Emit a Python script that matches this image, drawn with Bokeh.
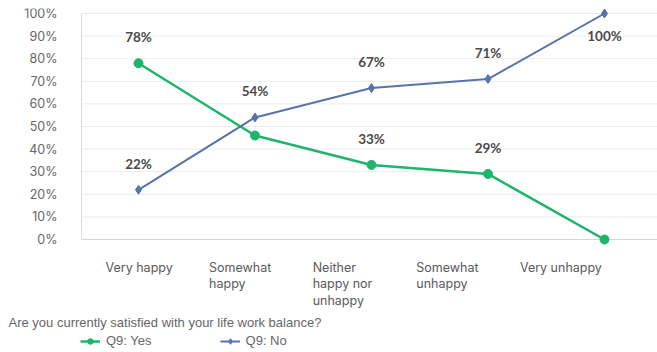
from bokeh.plotting import figure
from bokeh.models import (Range1d, FixedTicker, PrintfTickFormatter, ColumnDataSource,
                          LabelSet, Label, Legend, LegendItem, Span)
from bokeh.core.properties import value
from bokeh.embed import file_html
from bokeh.resources import INLINE

# ---- data ----
categories = ["Very happy", "Somewhat\nhappy", "Neither\nhappy nor\nunhappy",
              "Somewhat\nunhappy", "Very unhappy"]
yes_values = [78, 46, 33, 29, 0]
no_values = [22, 54, 67, 71, 100]
yes_labels = ["78%", "", "33%", "29%", ""]
no_labels = ["22%", "54%", "67%", "71%", "100%"]
y_ticks = [0, 10, 20, 30, 40, 50, 60, 70, 80, 90, 100]
question = "Are you currently satisfied with your life work balance?"
series_names = ["Q9: Yes", "Q9: No"]

GREEN = "#1fb46b"
BLUE = "#5673ad"

W, H = 657, 352
TOP = 8
AXIS_PX = 81  # pixel column of the value axis
frame_w = W
frame_h = H - TOP

# x range: points at pixel 138 + 116.5*i (frame spans the full width)
x0_px, dx_px = 138.0, 116.5
xs = -x0_px / dx_px
xe = xs + frame_w / dx_px
# y range: 0 at pixel 239, 100 at pixel 13 (frame runs to the bottom edge)
ppu = (239 - 13) / 100.0
ys = -(H - 239) / ppu
ye = ys + frame_h / ppu

def px_x(px):
    return xs + px / dx_px

def px_y(py):
    return (239 - py) / ppu

p = figure(width=W, height=H, output_backend="svg", toolbar_location=None,
           x_range=Range1d(xs, xe), y_range=Range1d(ys, ye),
           x_axis_location=None,
           min_border_left=0, min_border_right=0, min_border_top=TOP,
           min_border_bottom=0)
p.outline_line_color = None
p.background_fill_color = "white"
p.border_fill_color = "white"

# label range for category text blocks (left edges)
lab0_px, ldx_px = 105.0, 103.6
ls = -lab0_px / ldx_px
le = ls + frame_w / ldx_px
p.extra_x_ranges = {"labels": Range1d(ls, le)}

# horizontal grid lines from the axis to the right edge
p.xgrid.visible = False
p.ygrid.visible = False
grid_x0 = px_x(AXIS_PX)
p.segment(x0=[grid_x0] * len(y_ticks), x1=[xe] * len(y_ticks), y0=y_ticks, y1=y_ticks,
          line_color="#ececec", line_width=1)

p.yaxis.fixed_location = grid_x0
p.yaxis.ticker = FixedTicker(ticks=y_ticks)
p.yaxis.formatter = PrintfTickFormatter(format="%d%%")
p.yaxis.bounds = (0, 100)
p.yaxis.axis_line_color = "#dcdcdc"
p.yaxis.major_tick_line_color = None
p.yaxis.minor_tick_line_color = None
p.yaxis.major_label_standoff = 18
p.yaxis.major_label_text_font = "Inter"
p.yaxis.major_label_text_font_size = "12.5px"
p.yaxis.major_label_text_color = "#666666"

p.segment(x0=[grid_x0], x1=[xe], y0=[0], y1=[0], line_color="#d6d6d6", line_width=1)

idx = list(range(len(categories)))
src_yes = ColumnDataSource(dict(x=idx, y=yes_values, t=yes_labels,
                                off=[26 if v < 100 else -22 for v in yes_values]))
src_no = ColumnDataSource(dict(x=idx, y=no_values, t=no_labels,
                               off=[26 if v < 100 else -22 for v in no_values]))

l_yes = p.line("x", "y", source=src_yes, line_color=GREEN, line_width=2.5)
m_yes = p.scatter("x", "y", source=src_yes, marker="circle", size=9,
                  fill_color=GREEN, line_color=GREEN)
l_no = p.line("x", "y", source=src_no, line_color=BLUE, line_width=2)
m_no = p.scatter("x", "y", source=src_no, marker="diamond", size=9,
                 fill_color=BLUE, line_color=BLUE)

for src in (src_yes, src_no):
    p.add_layout(LabelSet(x="x", y="y", text="t", source=src, y_offset="off",
                          text_align="center", text_baseline="middle",
                          text_font=value("Lato"), text_font_size=value("13.5px"),
                          text_font_style="bold", text_color="#4a4a4a"))

# category labels (below the plot)
cat_src = ColumnDataSource(dict(x=idx, y=[px_y(259)] * len(idx), t=categories))
p.add_layout(LabelSet(x="x", y="y", text="t", source=cat_src, x_range_name="labels",
                      text_align="left", text_baseline="top",
                      text_font=value("Inter"), text_font_size=value("12.5px"),
                      text_color="#5a5a5a", text_line_height=1.1))

# question text
p.add_layout(Label(x=px_x(8), y=px_y(322), text=question,
                   text_align="left", text_baseline="middle",
                   text_font="Liberation Sans", text_font_size="13px",
                   text_color="#666666"))

legend = Legend(items=[LegendItem(label=series_names[0], renderers=[l_yes, m_yes]),
                       LegendItem(label=series_names[1], renderers=[l_no, m_no])],
                orientation="horizontal", location=(80, 4),
                label_text_font="Liberation Sans", label_text_font_size="13px",
                label_text_color="#666666", glyph_width=20, glyph_height=14,
                label_standoff=6, spacing=68, padding=0, margin=0,
                border_line_color=None, background_fill_alpha=0)
p.add_layout(legend, "center")

open("out.html", "w").write(file_html(p, INLINE))
